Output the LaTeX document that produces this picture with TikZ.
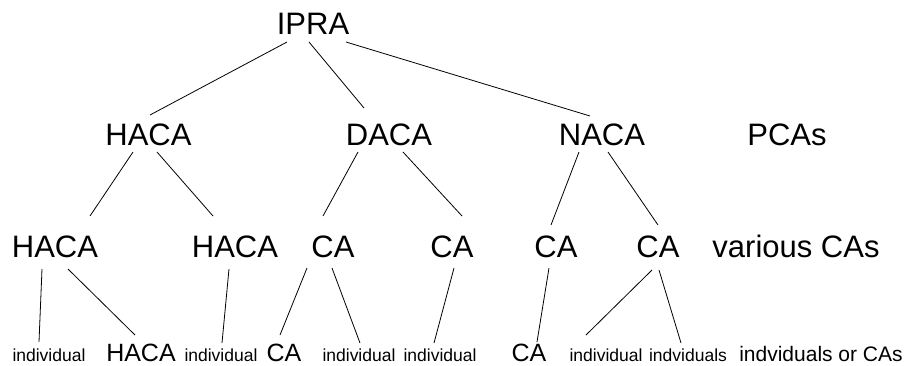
\documentclass[tikz,border=0pt]{standalone}
\usepackage{fontspec}
\setmainfont{Liberation Sans}
\newlength{\lw}
\setlength{\lw}{0.8pt}
\tikzstyle{every picture}+=[line width=\lw]
\tikzstyle{every picture}+=[line cap=butt]
\tikzstyle{every picture}+=[x=1pt,y=-1pt]
\tikzstyle{every node}=[inner sep=0pt,anchor=base]
\tikzstyle{large}=[font=\fontsize{31}{31}\selectfont]
\tikzstyle{medium}=[font=\fontsize{25}{25}\selectfont]
\tikzstyle{note}=[font=\fontsize{21}{21}\selectfont]
\tikzstyle{small}=[font=\fontsize{17.5}{17.5}\selectfont]

\begin{document}
\begin{tikzpicture}
\useasboundingbox (0,0) rectangle (906,365);

% root
\node[large] (ipra) at (313,34) {IPRA};

% PCAs
\node[large] (haca) at (148.5,145) {HACA};
\node[large] (daca) at (389,145) {DACA};
\node[large] (naca) at (602,145) {NACA};
\node[large] (pcas) at (787,145) {PCAs};

% various CAs
\node[large] (hacaA) at (55,257) {HACA};
\node[large] (hacaB) at (235,257) {HACA};
\node[large] (caA) at (333,257) {CA};
\node[large] (caB) at (452,257) {CA};
\node[large] (caC) at (556,257) {CA};
\node[large] (caD) at (658,257) {CA};
\node[large] (various) at (796,257) {various CAs};

% leaves
\node[small] (indA) at (49,361) {individual};
\node[medium] (hacaC) at (141,361) {HACA};
\node[small] (indB) at (221,361) {individual};
\node[medium] (caE) at (284,361) {CA};
\node[small] (indC) at (359,361) {individual};
\node[small] (indD) at (440,361) {individual};
\node[medium] (caF) at (529,361) {CA};
\node[small] (indE) at (606,361) {individual};
\node[small] (indvA) at (688,361) {indviduals};
\node[note] (indvB) at (821,361) {indviduals or CAs};

\draw ([shift={(-26pt,-8pt)}]ipra.base) -- ([shift={(1.5pt,30pt)}]haca.base);
\draw ([shift={(-4pt,-8pt)}]ipra.base) -- ([shift={(-25pt,37pt)}]daca.base);
\draw ([shift={(33pt,-8pt)}]ipra.base) -- ([shift={(-12pt,29pt)}]naca.base);

\draw ([shift={(-15.5pt,-7pt)}]haca.base) -- ([shift={(35pt,41pt)}]hacaA.base);
\draw ([shift={(8.5pt,-7pt)}]haca.base) -- ([shift={(-22pt,41pt)}]hacaB.base);
\draw ([shift={(-31pt,-7pt)}]daca.base) -- ([shift={(-10pt,41pt)}]caA.base);
\draw ([shift={(14pt,-7pt)}]daca.base) -- ([shift={(10pt,41pt)}]caB.base);
\draw ([shift={(-23pt,-7pt)}]naca.base) -- ([shift={(-5pt,32pt)}]caC.base);
\draw ([shift={(6pt,-7pt)}]naca.base) -- ([shift={(0pt,32pt)}]caD.base);

\draw ([shift={(-13pt,-12pt)}]hacaA.base) -- ([shift={(-10pt,19pt)}]indA.base);
\draw ([shift={(13pt,-12pt)}]hacaA.base) -- ([shift={(-6pt,26pt)}]hacaC.base);
\draw ([shift={(-6pt,-12pt)}]hacaB.base) -- ([shift={(1pt,18pt)}]indB.base);
\draw ([shift={(-26pt,-11pt)}]caA.base) -- ([shift={(-4pt,26pt)}]caE.base);
\draw ([shift={(-1pt,-11pt)}]caA.base) -- ([shift={(1pt,18pt)}]indC.base);
\draw ([shift={(2pt,-11pt)}]caB.base) -- ([shift={(-6pt,18pt)}]indD.base);
\draw ([shift={(-7pt,-11pt)}]caC.base) -- ([shift={(8pt,19pt)}]caF.base);
\draw ([shift={(-6pt,-13pt)}]caD.base) -- ([shift={(-20pt,26pt)}]indE.base);
\draw ([shift={(1pt,-13pt)}]caD.base) -- ([shift={(-7pt,18pt)}]indvA.base);
\end{tikzpicture}
\end{document}
